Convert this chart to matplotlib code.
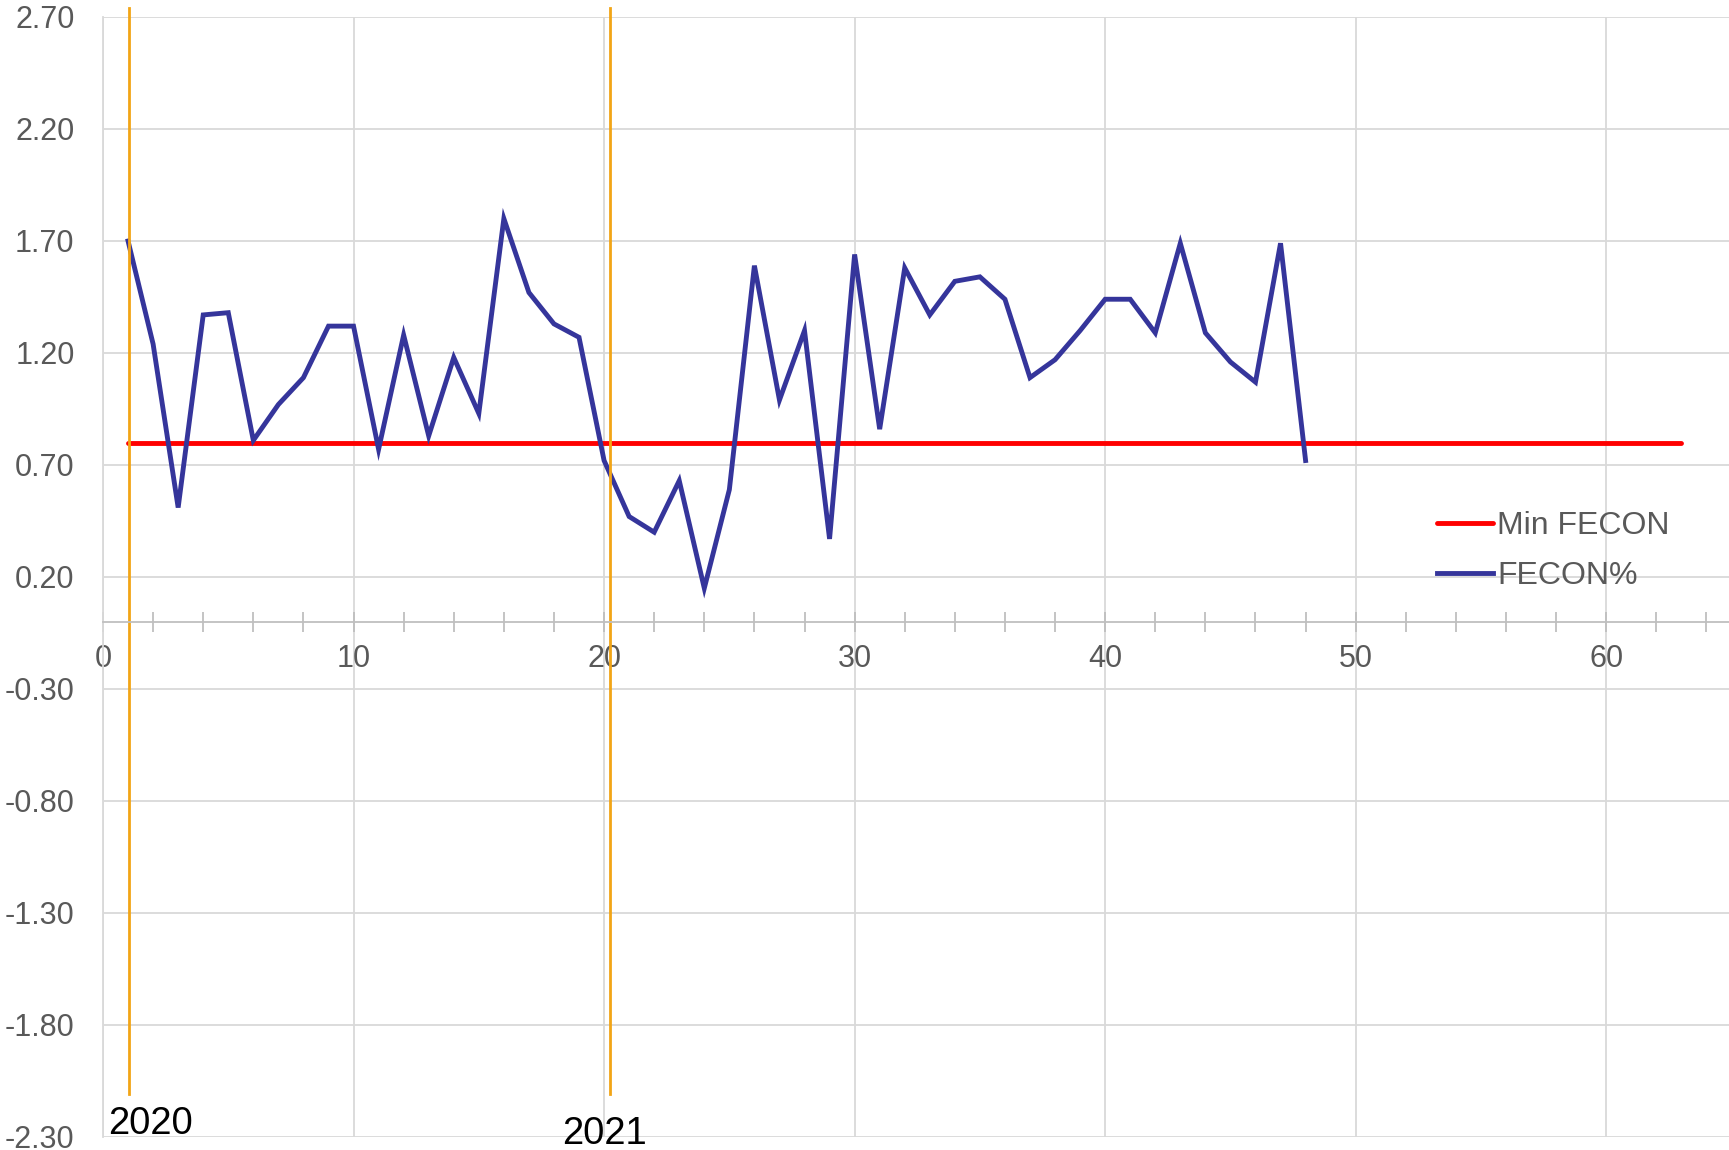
import matplotlib.pyplot as plt
import numpy as np

plt.rcParams['font.family'] = ['Liberation Sans', 'DejaVu Sans']

# weekly FECON% values (x = 1..48)
weeks = list(range(1, 49))
fecon = [1.70, 1.24, 0.51, 1.37, 1.38, 0.81, 0.97, 1.09, 1.32, 1.32,
         0.77, 1.28, 0.83, 1.18, 0.93, 1.80, 1.47, 1.33, 1.27, 0.72,
         0.47, 0.40, 0.63, 0.15, 0.59, 1.59, 0.99, 1.30, 0.37, 1.64,
         0.86, 1.58, 1.37, 1.52, 1.54, 1.44, 1.09, 1.17, 1.30, 1.44,
         1.44, 1.29, 1.69, 1.29, 1.16, 1.07, 1.69, 0.72]

# minimum FECON threshold line
min_x = [1, 63]
min_y = [0.80, 0.80]

# year markers
year_x = [1.05, 20.25]
year_labels = ['2020', '2021']

grey = '#595959'
grid_c = '#d9d9d9'

fig = plt.figure(figsize=(17.29, 11.5), dpi=100)
ax = fig.add_axes([103 / 1729, 13 / 1150, 1 - 103 / 1729, (1137 - 17) / 1150])

ax.set_xlim(0, 64.9)
ax.set_ylim(-2.3, 2.7)
ax.set_yticks(np.arange(-2.3, 2.71, 0.5))
ax.set_yticklabels(['%.2f' % v for v in np.arange(-2.3, 2.71, 0.5)])
ax.set_xticks(range(0, 61, 10))
ax.set_xticks(range(0, 65, 2), minor=True)

ax.grid(True, which='major', color=grid_c, linewidth=1.3)
ax.set_axisbelow(True)

for s in ['top', 'right']:
    ax.spines[s].set_visible(False)
ax.spines['left'].set_color(grid_c)
ax.spines['left'].set_linewidth(1.3)
ax.spines['bottom'].set_position(('data', 0))
ax.spines['bottom'].set_color('#bfbfbf')
ax.spines['bottom'].set_linewidth(1.3)

ax.tick_params(axis='y', length=0, pad=20.5, labelsize=22, labelcolor=grey)
ax.tick_params(axis='x', which='both', direction='inout', length=14, width=1.3,
               color='#bfbfbf', pad=9, labelsize=22, labelcolor=grey)

ax.plot(min_x, min_y, color='#ff0000', linewidth=3.5, label='Min FECON',
        solid_capstyle='round')
ax.plot(weeks, fecon, color='#35359b', linewidth=3.5, label='FECON%',
        solid_joinstyle='miter')

for x, lab in zip(year_x, year_labels):
    ax.plot([x, x], [-2.11, 2.74], color='#f2a516', linewidth=2.0, clip_on=False)
ax.text(0.2, -2.24, year_labels[0], fontsize=27.5, color='black', va='center',
        ha='left', clip_on=False)
ax.text(20.0, -2.285, year_labels[1], fontsize=27.5, color='black', va='center',
        ha='center', clip_on=False)

leg = ax.legend(loc='center left', bbox_to_anchor=(1408 / 1729, 1 - 551 / 1150),
                bbox_transform=fig.transFigure, frameon=False, fontsize=23,
                handlelength=1.75, handletextpad=0.15, labelspacing=0.62)
for t in leg.get_texts():
    t.set_color(grey)

fig.savefig('out.png', dpi=100)
